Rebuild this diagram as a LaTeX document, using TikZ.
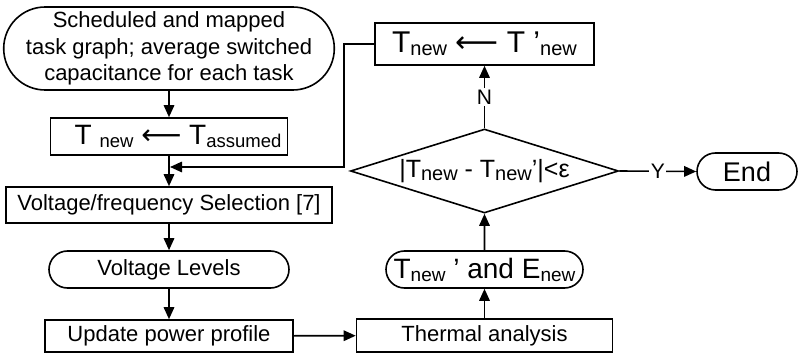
\documentclass[tikz,border=0pt]{standalone}
\usepackage{fontspec}
\setmainfont{Liberation Sans}
\newfontfamily\arrowfont{DejaVu Sans}
\usetikzlibrary{shapes.geometric,shapes.misc,arrows.meta}
% lowered subscript text in a given size
\newcommand\lowsub[2][18]{\raisebox{-3pt}{\fontsize{#1}{#1}\selectfont #2}}
% long assignment arrow
\newcommand\assignarrow{{\arrowfont ⟵}}

\begin{document}
\begin{tikzpicture}[x=1pt,y=-1pt,line width=1.6pt,
  box/.style={draw,rectangle,inner sep=0pt,align=center,font=\fontsize{22}{26.5}\selectfont},
  term/.style={draw,rounded rectangle,inner sep=0pt,align=center,font=\fontsize{22}{26.5}\selectfont},
  decide/.style={draw,diamond,inner sep=0pt,aspect=3.2},
  flow/.style={-{Triangle[length=12pt,width=10.5pt]}},
  tag/.style={fill=white,inner sep=1.5pt,font=\fontsize{21}{21}\selectfont}]
\useasboundingbox (0,0) rectangle (801,355);

% left column
\node[term,minimum width=328pt,minimum height=83pt] (start) at (169,48.5)
  {Scheduled and mapped\\task graph; average switched\\capacitance for each task};
\node[box,minimum width=237pt,minimum height=37pt,font=\fontsize{28}{28}\selectfont] (tinit) at (169,136.5)
  {\hspace*{18pt}T \lowsub[18.5]{new} \assignarrow{} T\lowsub[18.5]{assumed}};
\node[box,minimum width=326pt,minimum height=36pt] (vfs) at (169,205)
  {Voltage/frequency Selection [7]};
\node[term,minimum width=240pt,minimum height=37pt] (vlev) at (169,269.5)
  {Voltage Levels};
\node[box,minimum width=248pt,minimum height=32pt] (upd) at (169,336)
  {Update power profile};

% right column
\node[box,minimum width=256pt,minimum height=33pt] (therm) at (484.5,335.5)
  {Thermal analysis};
\node[term,minimum width=197pt,minimum height=37pt,font=\fontsize{28}{28}\selectfont] (te) at (484.5,269.5)
  {T\lowsub[19]{new} ’ and E\lowsub[19]{new}};
\node[decide,minimum width=268pt,minimum height=84pt,font=\fontsize{25}{25}\selectfont] (dia) at (484.5,171)
  {|T\lowsub[20]{new} - T\lowsub[20]{new}’|<ε};
\node[box,minimum width=219pt,minimum height=42pt,font=\fontsize{30}{30}\selectfont] (tupd) at (484.5,44)
  {T\lowsub[20]{new} \assignarrow{} T ’\lowsub[20]{new}};
\node[term,minimum width=100pt,minimum height=37pt,font=\fontsize{27}{27}\selectfont] (endn) at (747,171.5)
  {End};

\coordinate (merge) at (170,167);

% connectors
\draw[flow] (start) -- (tinit);
\draw[flow] (tinit) -- (vfs);
\draw[flow] (vfs) -- (vlev);
\draw[flow] (vlev) -- (upd);
\draw[flow] (upd) -- (therm);
\draw[flow] (therm) -- (te);
\draw[flow] (te) -- (dia);
\draw[flow] (dia.north) -- node[tag] {N} (tupd.south);
\draw[flow] (dia.east) -- node[tag] {Y} (endn.west);
\draw[flow] (tupd.west) -- ++(-30,0) |- (merge);
\end{tikzpicture}
\end{document}
